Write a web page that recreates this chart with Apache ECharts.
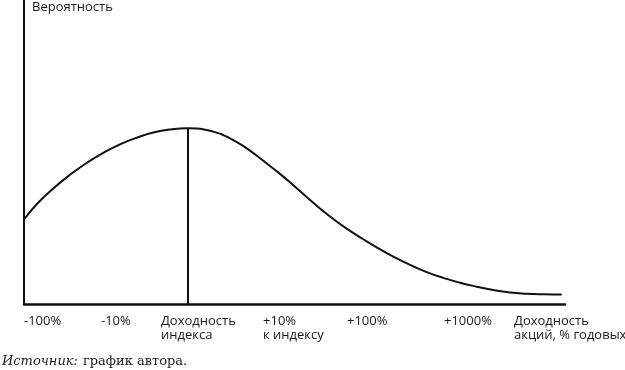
<!DOCTYPE html>
<html><head><meta charset="utf-8">
<script src="https://cdn.jsdelivr.net/npm/echarts@6/dist/echarts.min.js"></script>
<style>html,body{margin:0;padding:0;background:#fff}#c{width:625px;height:370px}</style>
</head><body><div id="c"></div>
<script>
// Return scale position (0..100, schematic) and probability (0..100, schematic)
const curveX = [0, 2.35, 5.42, 8.50, 11.59, 14.66, 17.74, 20.83, 23.90, 26.99, 30.31, 34.99, 38.08, 41.16, 44.23, 47.32, 50.41, 53.48, 56.56, 59.65, 62.72, 65.19, 68.26, 71.35, 74.44, 77.50, 80.59, 83.68, 86.75, 89.83, 92.92, 95.99, 99.39];
const curveY = [27.8, 32.8, 38.0, 42.5, 46.4, 49.7, 52.5, 54.7, 56.4, 57.4, 57.8, 56.7, 54.5, 51.2, 47.1, 42.8, 38.1, 33.3, 28.8, 24.8, 21.3, 18.6, 15.6, 12.9, 10.5, 8.6, 7.0, 5.7, 4.6, 3.8, 3.4, 3.2, 3.1];
const indexX = 30.31;          // index return (peak)
const indexPeak = 57.8;
const tickValues = [0, 14.23, 25.32, 44.18, 59.70, 77.63, 90.57];
const tickLabels = ['-100%', '-10%', 'Доходность\nиндекса', '+10%\nк индексу', '+100%', '+1000%', 'Доходность\nакций, % годовых'];
const yName = 'Вероятность';

const chart = echarts.init(document.getElementById('c'), null, {renderer: 'canvas'});
const curve = curveX.map((x, i) => [x, curveY[i]]);
chart.setOption({
  animation: false,
  backgroundColor: '#fff',
  grid: {left: 24, right: 60, top: 0, bottom: 66, containLabel: false, outerBoundsMode: 'none'},
  title: {
    left: 2, top: 353, padding: 0,
    text: '{i|Источник:} {r|график автора.}',
    textStyle: {
      fontWeight: 'normal',
      rich: {
        i: {fontFamily: 'DejaVu Serif', fontStyle: 'italic', fontWeight: 'normal', fontSize: 13, lineHeight: 16, color: '#1a1a1a'},
        r: {fontFamily: 'DejaVu Serif', fontWeight: 'normal', fontSize: 13, lineHeight: 16, color: '#1a1a1a'}
      }
    }
  },
  xAxis: {
    type: 'value', min: 0, max: 100,
    axisLine: {show: true, onZero: false, lineStyle: {color: '#111', width: 2.5}},
    axisTick: {show: false},
    splitLine: {show: false},
    axisLabel: {
      customValues: tickValues,
      formatter: (v) => { const i = tickValues.indexOf(v); return i >= 0 ? tickLabels[i] : ''; },
      align: 'left', verticalAlign: 'top', margin: 10,
      fontFamily: 'Open Sans', fontSize: 13, color: '#1a1a1a', lineHeight: 14,
      showMinLabel: true, showMaxLabel: true, hideOverlap: false
    }
  },
  yAxis: {
    type: 'value', min: 0, max: 100,
    name: yName, nameLocation: 'end', nameGap: 0,
    nameTextStyle: {align: 'left', verticalAlign: 'top', padding: [1, 0, 0, 8], fontFamily: 'Open Sans', fontSize: 13, color: '#1a1a1a'},
    axisLine: {show: true, lineStyle: {color: '#111', width: 2}},
    axisTick: {show: false}, axisLabel: {show: false}, splitLine: {show: false}
  },
  series: [
    {type: 'line', data: curve, smooth: 0.5, symbol: 'none', lineStyle: {color: '#111', width: 2}},
    {type: 'line', data: [[indexX, 0], [indexX, indexPeak]], symbol: 'none', lineStyle: {color: '#111', width: 2}}
  ]
});
</script></body></html>
